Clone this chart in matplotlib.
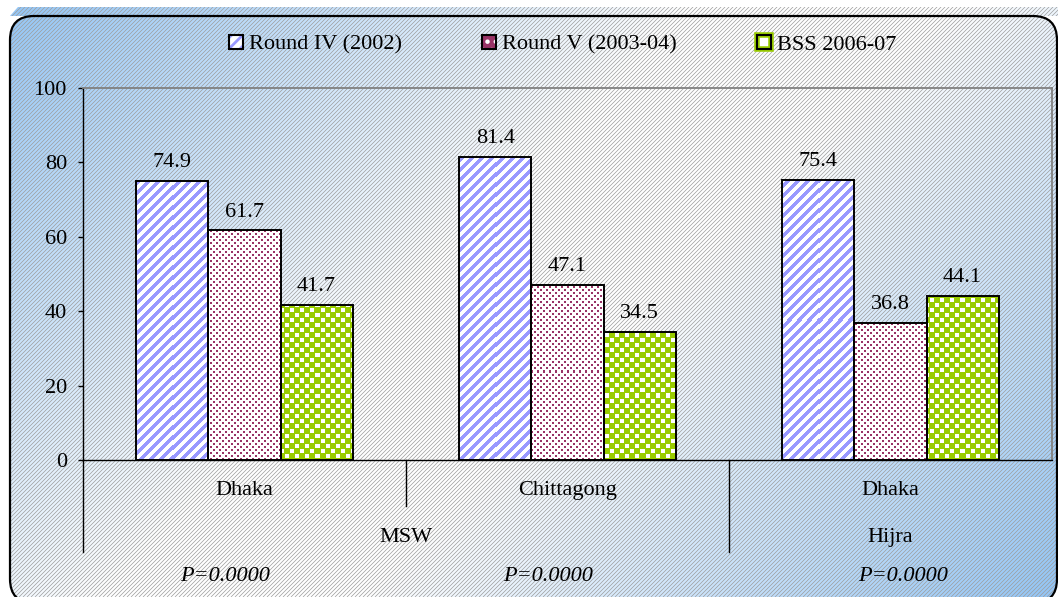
import matplotlib
matplotlib.use('Agg')
import matplotlib.pyplot as plt
import numpy as np
from matplotlib.patches import FancyBboxPatch, Patch, Polygon
from matplotlib.collections import LineCollection
from matplotlib.legend_handler import HandlerTuple

plt.rcParams['font.family'] = ['Liberation Serif', 'DejaVu Serif']
plt.rcParams['hatch.linewidth'] = 2.0

# --- dados ---
regioes = ['Dhaka', 'Chittagong', 'Dhaka']
grupos = ['MSW', 'Hijra']
tamanho_grupos = [2, 1]
p_valores = ['P=0.0000', 'P=0.0000', 'P=0.0000']
series = ['Round IV (2002)', 'Round V (2003-04)', 'BSS 2006-07']
round_iv = [74.9, 81.4, 75.4]
round_v = [61.7, 47.1, 36.8]
bss = [41.7, 34.5, 44.1]

W, H = 1058, 597
FS = 16
fig = plt.figure(figsize=(W / 100, H / 100), dpi=100)

# --- fundo: degrade azul/branco com linhas diagonais finas ---
# eixo em pixels, y para cima
bg = fig.add_axes([0, 0, 1, 1])
bg.axis('off')

yy, xx = np.mgrid[0:H, 0:W]
d = (xx + yy) / (W + H)
t = np.clip(np.maximum(1 - d / 0.42, (d - 0.58) / 0.42), 0, 1)
azul = np.array([146, 197, 246]) / 255
fundo = 1 - t[..., None] * (1 - azul)

caixa_xy = (10, -6)
caixa_w, caixa_h = W - 11, H - 16 + 6
caixa = FancyBboxPatch(caixa_xy, caixa_w, caixa_h, boxstyle='round,pad=0,rounding_size=24',
                       transform=bg.transData)
faixa = Polygon([(10, H - 16), (18, H - 7), (W, H - 7), (W, H - 16)], closed=True,
                transform=bg.transData)

c = np.arange(-H, W + 4, 4)
segs = [[(ci, 0), (ci + H, H)] for ci in c]
for clip in (caixa, faixa):
    im = bg.imshow(fundo, extent=(0, W, 0, H), origin='upper', aspect='auto',
                   interpolation='bilinear')
    im.set_clip_path(clip)
    lc = LineCollection(segs, colors='#9c9c9c', linewidths=0.5)
    bg.add_collection(lc)
    lc.set_clip_path(clip)

borda = FancyBboxPatch(caixa_xy, caixa_w, caixa_h, boxstyle='round,pad=0,rounding_size=24',
                       facecolor='none', edgecolor='black', linewidth=1.6, zorder=5)
bg.add_patch(borda)
bg.set_xlim(0, W)
bg.set_ylim(0, H)

# --- grafico ---
ax = fig.add_axes([83 / W, (H - 460) / H, 969 / W, 372 / H])
ax.set_facecolor('none')
ax.set_xlim(0, 3)
ax.set_ylim(0, 100)


def listras(X, Y):
    m = ((X - Y) % 10) < 5
    return m, '#9999ff'


def pontos(X, Y):
    a = (Y % 6 < 2) & (X % 6 < 2)
    b = ((Y - 3) % 6 < 2) & ((X - 3) % 6 < 2)
    return a | b, '#993366'


def xadrez(X, Y):
    branco = (((X // 5 + Y // 5) % 2) == 1) & (X % 5 < 4) & (Y % 5 < 4)
    return ~branco, '#99cc00'


padroes = [listras, pontos, xadrez]
largura = 0.223
x = np.arange(len(regioes)) + 0.5

barras_todas = []
for k, valores in enumerate([round_iv, round_v, bss]):
    barras = ax.bar(x + (k - 1) * largura, valores, largura, facecolor='none',
                    edgecolor='black', linewidth=1.4, zorder=3)
    barras_todas.append(barras)
    for bar, v in zip(barras, valores):
        ax.annotate(f'{v:.1f}', (bar.get_x() + bar.get_width() / 2, v),
                    xytext=(0, 10), textcoords='offset points',
                    ha='center', va='baseline', fontsize=FS)

# preenchimento com padrao (imagem recortada pela barra)
for k, barras in enumerate(barras_todas):
    for bar in barras:
        bb = bar.get_window_extent()
        x0, x1 = int(round(bb.x0)), int(round(bb.x1))
        y0, y1 = int(round(bb.y0)), int(round(bb.y1))
        px = np.arange(x0, max(x1, x0 + 1))
        py = np.arange(y1, y0, -1)
        X, Y = np.meshgrid(px, py)
        m, cor = padroes[k](X, Y)
        rgb = np.ones(X.shape + (3,))
        rgb[m] = matplotlib.colors.to_rgb(cor)
        im = ax.imshow(rgb, extent=(bar.get_x(), bar.get_x() + bar.get_width(), 0, bar.get_height()),
                       origin='upper', aspect='auto', interpolation='nearest', zorder=2)
        im.set_clip_path(bar)

ax.set_xlim(0, 3)
ax.set_ylim(0, 100)
ax.set_yticks(range(0, 101, 20))
ax.set_xticks([])
ax.tick_params(axis='y', direction='out', length=3.6, width=1, pad=8, labelsize=FS)
ax.spines['left'].set_color('black')
ax.spines['bottom'].set_color('black')
ax.spines['left'].set_linewidth(1)
ax.spines['bottom'].set_linewidth(1)
for s in ('top', 'right'):
    ax.spines[s].set_color('#808080')
    ax.spines[s].set_linewidth(1.3)

# rotulos do eixo x em dois niveis
tr = ax.get_xaxis_transform()
for xi, nome in zip(x, regioes):
    ax.text(xi, -0.081, nome, transform=tr, ha='center', va='center', fontsize=FS)

inicio = 0
for nome, n in zip(grupos, tamanho_grupos):
    ax.text(inicio + n / 2, -0.207, nome, transform=tr, ha='center', va='center', fontsize=FS)
    ax.plot([inicio, inicio], [0, -0.247], transform=tr, color='black', lw=1, clip_on=False)
    for j in range(1, n):
        ax.plot([inicio + j, inicio + j], [0, -0.124], transform=tr, color='black', lw=1,
                clip_on=False)
    inicio += n

for xp, p in zip([0.44, 1.44, 2.54], p_valores):
    ax.text(xp, -0.312, p, transform=tr, ha='center', va='center', fontsize=FS, style='italic')

# legenda
contorno = dict(facecolor='none', edgecolor='black', linewidth=1.5)
handles = [
    (Patch(facecolor='white', edgecolor='#9999ff', hatch='///', linewidth=0), Patch(**contorno)),
    (Patch(facecolor='#993366', edgecolor='white', hatch='..', linewidth=0), Patch(**contorno)),
    (Patch(facecolor='white', edgecolor='#99cc00', linewidth=4), Patch(**contorno)),
]
fig.legend(handles, series, loc='center', bbox_to_anchor=(563 / W, 1 - 45 / H), ncol=3,
           frameon=False, fontsize=FS, handlelength=0.6, handleheight=0.6,
           handletextpad=0.3, columnspacing=3.6,
           handler_map={tuple: HandlerTuple(ndivide=1)})

fig.savefig('out.png', dpi=100)
